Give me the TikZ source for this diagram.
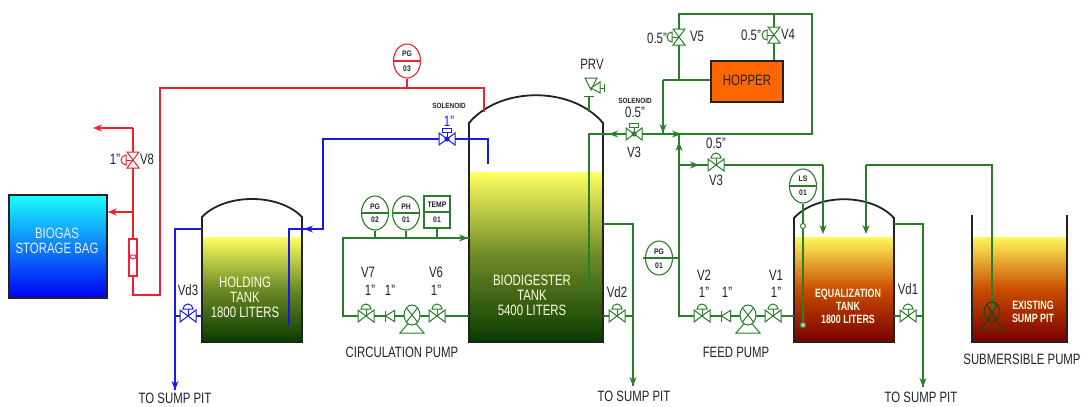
\documentclass[tikz,border=0pt]{standalone}
\usepackage{fontspec}
\setmainfont{Liberation Sans}
\usetikzlibrary{arrows.meta,shapes.geometric,calc}
\definecolor{gp}{HTML}{2A7D2A}
\definecolor{rp}{HTML}{F02030}
\definecolor{bp}{HTML}{1818F0}
\definecolor{tk}{HTML}{222222}
\definecolor{lblc}{HTML}{20242C}
\definecolor{yel}{HTML}{FFFF60}
\definecolor{dkg}{HTML}{0A3C00}
\definecolor{dkr}{HTML}{7A0000}
\tikzset{
  x=1pt,y=-1pt,
  pipeg/.style={draw=gp,line width=1.3pt},
  piper/.style={draw=rp,line width=1.3pt},
  pipeb/.style={draw=bp,line width=1.3pt},
  tipg/.style={pipeg,-{Stealth[length=9pt,width=7pt,fill=gp!80!black]}},
  tipr/.style={piper,-{Stealth[length=9pt,width=7pt,fill=rp]}},
  tipb/.style={pipeb,-{Stealth[length=9pt,width=7pt,fill=bp]}},
  lbl/.style={inner sep=0pt,text=lblc,font=\fontsize{15}{16}\selectfont,xscale=.76,transform shape,align=center},
  lblw/.style={inner sep=0pt,text=white!90!yellow,font=\fontsize{15}{15}\selectfont,xscale=.76,transform shape,align=center},
  lblws/.style={inner sep=0pt,text=white!90!yellow,font=\fontsize{12}{13}\selectfont\bfseries,xscale=.74,transform shape,align=center},
  tiny/.style={inner sep=0pt,text=lblc,font=\fontsize{7.5}{8}\selectfont\bfseries,xscale=.85,transform shape},
  tank/.style={draw=tk,line width=1.8pt},
  insttext/.style={inner sep=0pt,text=lblc,font=\fontsize{8}{8}\selectfont\bfseries,xscale=.85,transform shape},
  inst/.style={ellipse,draw,line width=1.1pt,fill=white,minimum width=27pt,minimum height=34pt,inner sep=0pt},
  pics/hvalve/.style={code={
    \draw[line width=1pt,fill=white] (-8,-6) -- (8,6) -- (8,-6) -- (-8,6) -- cycle;
    \draw[line width=1pt] (0,0) -- (0,-7);
    \draw[line width=1pt,fill=white] (-5,-7) arc (180:360:5) -- cycle;
  }},
  pics/vvalve/.style={code={
    \draw[line width=1pt,fill=white] (-6,-8) -- (6,8) -- (-6,8) -- (6,-8) -- cycle;
    \draw[line width=1pt] (0,0) -- (-7,0);
    \draw[line width=1pt,fill=white] (-7,-5) arc (270:90:5) -- cycle;
  }},
  pics/solvalve/.style={code={
    \draw[line width=1pt,fill=white] (-8,-6) -- (8,6) -- (8,-6) -- (-8,6) -- cycle;
    \fill (0,0) circle (2.6);
    \draw[line width=1pt] (0,0) -- (0,-7);
    \draw[line width=1pt,fill=white] (-4.5,-11) rectangle (4.5,-7);
  }},
  pics/checkv/.style={code={
    \draw[line width=1pt,fill=white] (-4.5,0) -- (4.5,-5.5) -- (4.5,5.5) -- cycle;
    \draw[line width=1pt] (-4.5,-5.5) -- (-4.5,5.5);
  }},
  pics/pumpv/.style={code={
    \draw[line width=1pt,fill=white] (-12,18) -- (0,4) -- (12,18) -- cycle;
    \draw[line width=1pt,fill=white] (0,0) ellipse (8 and 10);
    \draw[line width=1pt] (-5.5,-7) -- (5.5,7) (-5.5,7) -- (5.5,-7);
  }},
}
\begin{document}
\begin{tikzpicture}
\useasboundingbox (0,0) rectangle (1088,407);
\fill[white] (0,0) rectangle (1088,407);

% ---- liquids
\path[top color=yel,bottom color=dkg,middle color=yel!40!dkg] (203,237) rectangle (301,341);
\path[top color=yel,bottom color=dkg,middle color=yel!40!dkg] (470,172) rectangle (602,341);
\path[top color=yel!95!orange,bottom color=dkr,middle color=orange!60!dkr] (795,237) rectangle (893,341);
\path[top color=yel!95!orange,bottom color=dkr,middle color=orange!60!dkr] (973,237) rectangle (1066,341);

% ---- tanks
\draw[tank] (202,342) -- (202,217) .. controls (225,193) and (279,193) .. (302,217) -- (302,342) -- cycle;
\draw[tank] (469,342) -- (469,123) .. controls (500,86) and (572,86) .. (603,123) -- (603,342) -- cycle;
\draw[tank] (794,342) -- (794,218) .. controls (817,193) and (871,193) .. (894,218) -- (894,342) -- cycle;
\draw[tank] (972,215) -- (972,342) -- (1067,342) -- (1067,215);

% ---- bag and hopper
\node[draw=tk,line width=1.8pt,minimum width=98pt,minimum height=103pt,inner sep=0pt,anchor=north west,
  top color=cyan!90!white,middle color=blue!90!cyan,bottom color=blue!95!black] (bag) at (8,194) {};
\node[lblw,text=white!92!blue] (bagt) at (57,241) {BIOGAS\\STORAGE BAG};
\node[draw=tk,line width=1.8pt,fill=orange!80!red,minimum width=72pt,minimum height=41pt,inner sep=0pt,anchor=north west] (hopper) at (710,60) {};
\node[lbl] (hoppert) at (747,80) {HOPPER};

% ---- coordinates
\coordinate (rA) at (133,276); \coordinate (rB) at (133,295); \coordinate (rC) at (160,295);
\coordinate (rD) at (160,88);  \coordinate (rE) at (484,88);  \coordinate (rF) at (484,112);
\coordinate (rG) at (133,239); \coordinate (rH) at (133,128); \coordinate (rI) at (93,128);
\coordinate (rJ) at (133,212); \coordinate (v8) at (133,160);
\coordinate (bA) at (202,229); \coordinate (bB) at (175,229); \coordinate (bC) at (175,390);
\coordinate (vd3) at (188,316); \coordinate (bD) at (175,316); \coordinate (bE) at (202,316);
\coordinate (bF) at (289,325); \coordinate (bG) at (289,229); \coordinate (bGa) at (304,229); \coordinate (bH) at (323,229);
\coordinate (bI) at (323,139); \coordinate (bJ) at (488,139); \coordinate (bK) at (488,164);
\coordinate (sol1) at (447,139);
\coordinate (cA) at (469,238); \coordinate (cB) at (343,238); \coordinate (cC) at (343,316); \coordinate (cD) at (469,316);
\coordinate (v7) at (366,316); \coordinate (chk1) at (390,316); \coordinate (pump1) at (412,315); \coordinate (v6) at (437,316);
\coordinate (vd2) at (617,316);
\coordinate (dA) at (603,224); \coordinate (dB) at (633,224); \coordinate (dC) at (633,386); \coordinate (dD) at (603,316); \coordinate (dE) at (633,316);
\coordinate (fA) at (589,293); \coordinate (fB) at (589,134); \coordinate (fC) at (812,134); \coordinate (fD) at (812,14);
\coordinate (fE) at (679,14); \coordinate (fF) at (679,80); \coordinate (fG) at (663,80); \coordinate (fH) at (663,134);
\coordinate (fI) at (774,14); \coordinate (fJ) at (774,60);
\coordinate (sol2) at (634,134); \coordinate (v5) at (679,37); \coordinate (v4) at (774,35);
\coordinate (gA) at (679,134); \coordinate (gB) at (679,316); \coordinate (gC) at (679,165); \coordinate (gD) at (823,165); \coordinate (gE) at (823,234);
\coordinate (v3b) at (716,165);
\coordinate (v2) at (702,316); \coordinate (chk2) at (726,316); \coordinate (pump2) at (748,315); \coordinate (v1) at (773,316); \coordinate (gF) at (794,316);
\coordinate (vd1) at (908,316);
\coordinate (hA) at (894,224); \coordinate (hB) at (923,224); \coordinate (hC) at (923,387); \coordinate (hD) at (894,316); \coordinate (hE) at (923,316);
\coordinate (pump3) at (992,312); \coordinate (iA) at (992,165); \coordinate (iB) at (866,165); \coordinate (iC) at (866,234);
\coordinate (lsA) at (803,226); \coordinate (lsB) at (803,325);
\coordinate (prvA) at (589,112); \coordinate (prvB) at (589,96);

% ---- red pipes
\draw[piper] (rA) -- (rB) -- (rC) -- (rD) -- (rE) -- (rF);
\draw[piper] (rG) -- (rH);
\draw[tipr] (rH) -- (rI);
\draw[tipr] (rJ) -- (bag.east |- rJ);
\draw[rp,line width=1.1pt,fill=white] (129,239) rectangle (137,276);
\draw[rp,line width=1pt] (129,255) -- (137,255) (130,256) arc (180:0:3);
\pic[color=rp] at (v8) {vvalve};
\node[inst,draw=rp] (pg3) at (407,61) {};
\draw[rp,line width=1.1pt] (pg3.west) -- (pg3.east);
\draw[piper] (pg3.south) -- (pg3.south |- rE);
\node[insttext] (pg3a) at (407,54) {PG};
\node[insttext] (pg3b) at (407,69) {03};

% ---- blue pipes
\draw[pipeb] (bA) -- (bB) -- (bC);
\draw[tipb] (bB) -- (bC);
\draw[pipeb] (bD) -- (bE);
\draw[pipeb] (bF) -- (bG) -- (bH) -- (bI) -- (bJ) -- (bK);
\draw[tipb] (bH) -- (bGa);
\pic[color=bp] at (vd3) {hvalve};
\pic[color=bp] at (sol1) {solvalve};

% ---- green pipes
\draw[pipeg] (cA) -- (cB) -- (cC) -- (cD);
\draw[tipg] (cB) -- ($(cA)+(-1,0)$);
\draw[pipeg] (dA) -- (dB) -- (dC);
\draw[tipg] (dB) -- (dC);
\draw[pipeg] (dD) -- (dE);
\draw[pipeg] (fA) -- (fB) -- (fC) -- (fD) -- (fE) -- (fF);
\draw[pipeg] (fI) -- (fJ);
\draw[pipeg] (hopper.west |- fF) -- (fG);
\draw[pipeg] (fG) -- (fH);
\draw[tipg] (fG) -- ($(fH)+(0,-1)$);
\draw[tipg] (sol2) -- (609,134);
\draw[tipg] (gA) -- (sol2);
\draw[pipeg] (gA) -- (gB) -- (gF);
\draw[tipg] ($(gA)+(0,30)$) -- ($(gA)+(0,8)$);
\draw[tipg] (660,134) -- (681,134);
\draw[pipeg] (gC) -- (gD);
\draw[tipg] (gD) -- (gE);
\draw[tipg] (gC) -- (699,165);
\draw[pipeg] (hA) -- (hB) -- (hC);
\draw[tipg] (hB) -- (hC);
\draw[pipeg] (hD) -- (hE);
\draw[pipeg] (pump3) -- (iA) -- (iB);
\draw[tipg] (iB) -- (iC);
\draw[gp,line width=1.2pt] (prvA) -- (prvB);
\draw[gp,line width=1pt] (584,96) -- (594,96);
\draw[gp,line width=1pt,fill=white] (585,78) -- (597,78) -- (591,90) -- cycle;
\draw[gp,line width=1pt,fill=white] (591,88) -- (600,82) -- (600,93) -- cycle;
\draw[gp,line width=1pt] (600,88) -- (605,88) (604,84) -- (604,92);

\foreach \n in {v7,v6,vd2,v3b,v2,v1,vd1} {\pic[color=gp] at (\n) {hvalve};}
\foreach \n in {v5,v4} {\pic[color=gp] at (\n) {vvalve};}
\pic[color=gp] at (sol2) {solvalve};
\foreach \n in {chk1,chk2} {\pic[color=gp] at (\n) {checkv};}
\foreach \n in {pump1,pump2} {\pic[color=gp] at (\n) {pumpv};}
\begin{scope}
\draw[gp!55!black,line width=1pt] (980,330) -- (992,316) -- (1004,330) -- cycle;
\draw[gp!55!black,line width=1pt] (pump3) ellipse (8 and 10);
\draw[gp!55!black,line width=1pt] (986.5,305) -- (997.5,319) (986.5,319) -- (997.5,305);
\end{scope}

% ---- instruments
\node[inst,draw=gp] (pg2) at (375,213) {};
\draw[gp,line width=1.1pt] (pg2.west) -- (pg2.east);
\node[insttext] (pg2a) at (375,207) {PG};
\node[insttext] (pg2b) at (375,220) {02};
\node[inst,draw=gp] (ph1) at (406,213) {};
\draw[gp,line width=1.1pt] (ph1.west) -- (ph1.east);
\node[insttext] (ph1a) at (406,207) {PH};
\node[insttext] (ph1b) at (406,220) {01};
\node[draw=gp,line width=1.1pt,fill=white,minimum width=26pt,minimum height=32pt,inner sep=0pt] (temp) at (437,212) {};
\draw[gp,line width=1.1pt] (temp.west) -- (temp.east);
\node[insttext] (tempa) at (437,205) {TEMP};
\node[insttext] (tempb) at (437,220) {01};
\draw[pipeg] (pg2.south) -- (pg2.south |- cB);
\draw[pipeg] (ph1.south) -- (ph1.south |- cB);
\draw[pipeg] (temp.south) -- (temp.south |- cB);
\node[inst,draw=gp] (pg1) at (659,258) {};
\draw[gp,line width=1.1pt] ($(pg1.west)+(-2,0)$) -- (pg1.east);
\node[insttext] (pg1a) at (659,252) {PG};
\node[insttext] (pg1b) at (659,266) {01};
\draw[pipeg] (pg1.east) -- (pg1.east -| gA);
\node[inst,draw=gp] (ls1) at (803,186) {};
\draw[gp,line width=1.1pt] (ls1.west) -- (ls1.east);
\node[insttext] (ls1a) at (803,179) {LS};
\node[insttext] (ls1b) at (803,193) {01};
\draw[pipeg] (ls1.south) -- (lsB);
\draw[gp,line width=1pt,fill=white] (lsA) circle (2.5);
\draw[gp,line width=1pt,fill=white!70!dkr] (lsB) circle (2.8);

% ---- labels
\node[lblw] (t1) at (245,297) {HOLDING\\TANK\\1800 LITERS};
\node[lblw] (t2) at (532,295) {BIODIGESTER\\TANK\\5400 LITERS};
\node[lblws] (t3) at (848,306) {EQUALIZATION\\TANK\\1800 LITERS};
\node[lblws] (t4) at (1033,312) {EXISTING\\SUMP PIT};
\node[lbl] (l1) at (175,398) {TO SUMP PIT};
\node[lbl] (l2) at (634,396) {TO SUMP PIT};
\node[lbl] (l3) at (921,397) {TO SUMP PIT};
\node[lbl] (l4) at (402,352) {CIRCULATION PUMP};
\node[lbl] (l5) at (736,352) {FEED PUMP};
\node[lbl] (l6) at (1022,359) {SUBMERSIBLE PUMP};
\node[lbl] (l7) at (147,159) {V8};
\node[lbl] (l8) at (115,159) {1"};
\node[lbl] (l9) at (188,290) {Vd3};
\node[lbl] (l10) at (368,272) {V7};
\node[lbl] (l11) at (370,290) {1"};
\node[lbl] (l12) at (390,290) {1"};
\node[lbl] (l13) at (436,272) {V6};
\node[lbl] (l14) at (436,290) {1"};
\node[lbl] (l15) at (617,292) {Vd2};
\node[lbl] (l16) at (704,275) {V2};
\node[lbl] (l17) at (704,292) {1"};
\node[lbl] (l18) at (727,292) {1"};
\node[lbl] (l19) at (776,275) {V1};
\node[lbl] (l20) at (776,292) {1"};
\node[lbl] (l21) at (908,289) {Vd1};
\node[lbl] (l22) at (592,64) {PRV};
\node[lbl] (l23) at (634,152) {V3};
\node[lbl] (l24) at (635,112) {0.5"};
\node[tiny] (l25) at (635,101) {SOLENOID};
\node[tiny] (l26) at (449,106) {SOLENOID};
\node[lbl,text=bp] (l27) at (449,121) {1"};
\node[lbl] (l28) at (697,36) {V5};
\node[lbl] (l29) at (657,38) {0.5"};
\node[lbl] (l30) at (788,34) {V4};
\node[lbl] (l31) at (751,35) {0.5"};
\node[lbl] (l32) at (716,180) {V3};
\node[lbl] (l33) at (716,143) {0.5"};
\end{tikzpicture}
\end{document}
